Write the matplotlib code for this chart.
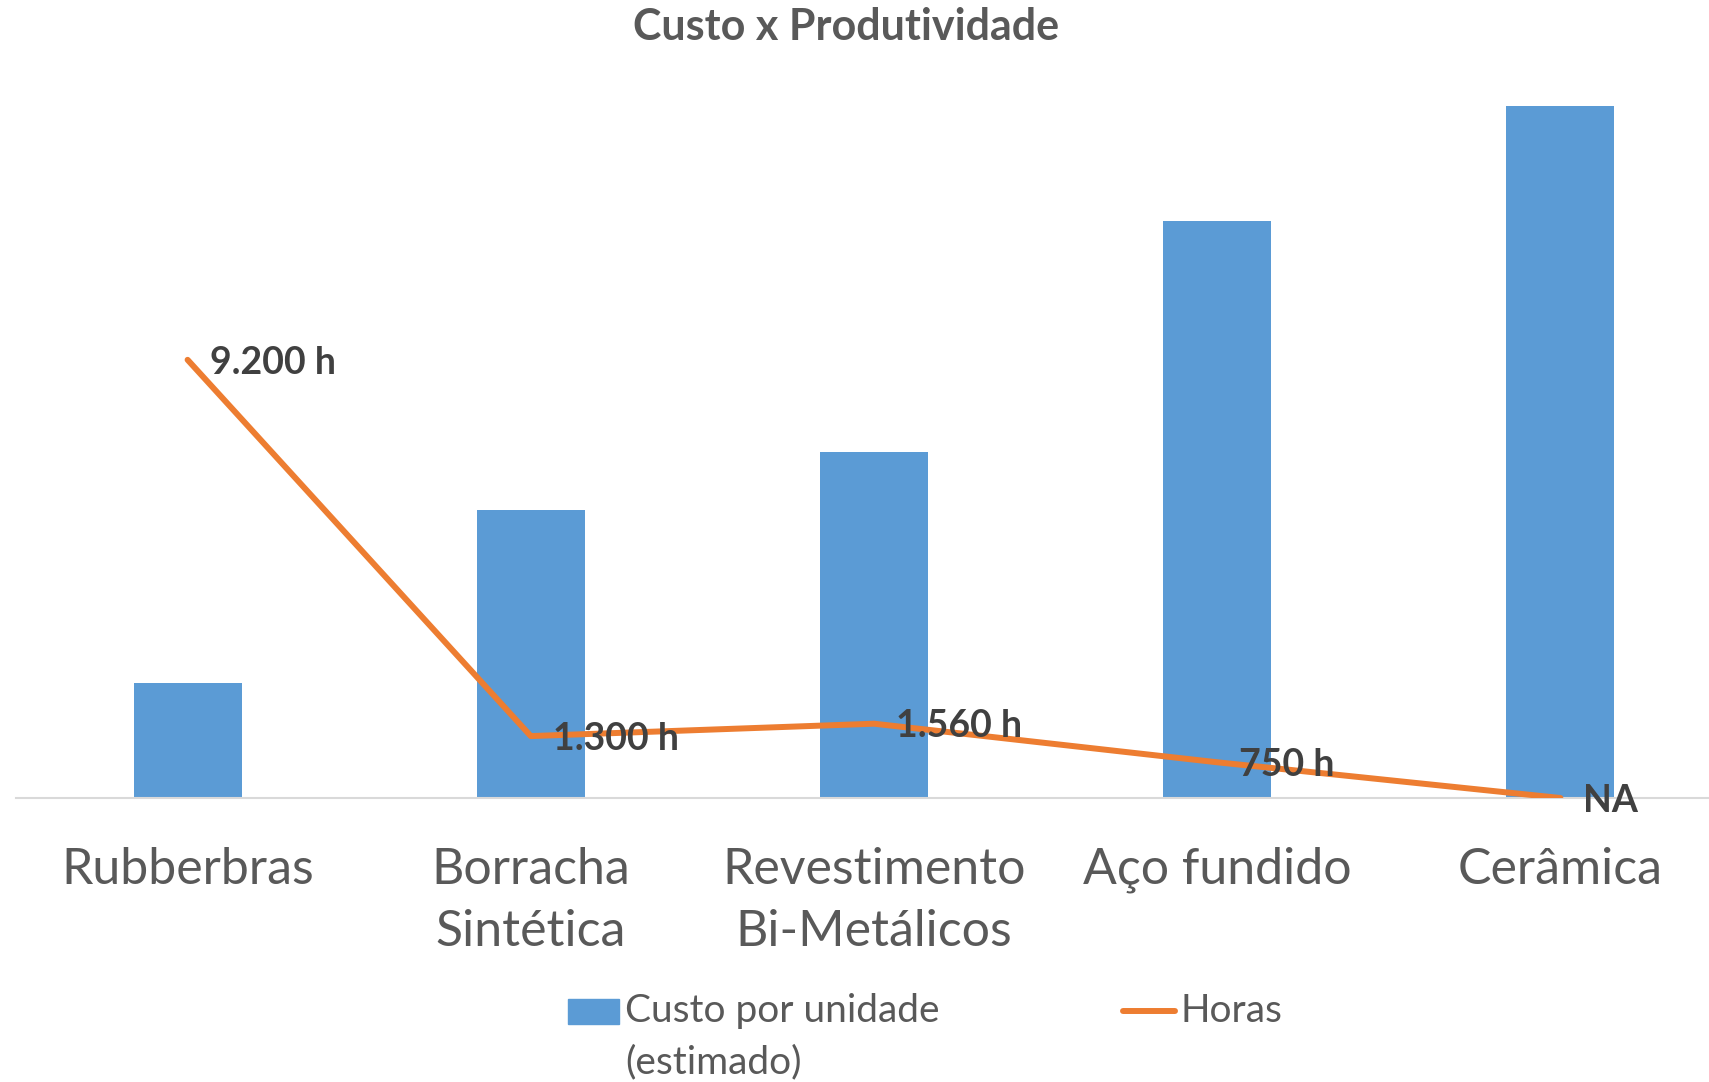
import matplotlib
matplotlib.use("Agg")
import matplotlib.pyplot as plt
from matplotlib.patches import Rectangle
from matplotlib.lines import Line2D

plt.rcParams['font.family'] = ['Lato', 'DejaVu Sans']

categories = ["Rubberbras", "Borracha\nSintética", "Revestimento\nBi-Metálicos",
              "Aço fundido", "Cerâmica"]
custo = [1000, 2500, 3000, 5000, 6000]
horas = [9200, 1300, 1560, 750, 0]
horas_labels = ["9.200 h", "1.300 h", "1.560 h", "750 h", "NA"]

blue = "#5B9BD5"
orange = "#ED7D31"
text_grey = "#595959"
label_grey = "#404040"

W, H = 1709, 1082
fig = plt.figure(figsize=(W / 100, H / 100), dpi=100)

# plot area in pixels
left_px, right_px = 16, 1709
top_px, base_px = 60, 798
ax = fig.add_axes([left_px / W, 1 - base_px / H,
                   (right_px - left_px) / W, (base_px - top_px) / H])
ax2 = ax.twinx()

x = list(range(len(categories)))
ax.bar(x, custo, width=0.315, color=blue, zorder=2)
ax.set_xlim(-0.5, 4.433)
ax.set_ylim(0, 6396)
ax2.set_ylim(0, 15495)

ax2.plot(x, horas, color=orange, lw=4.3, solid_capstyle='round', zorder=3)
for xi, yi, lab in zip(x, horas, horas_labels):
    ax2.annotate(lab, xy=(xi, yi), xytext=(16, -2), textcoords='offset points',
                 ha='left', va='center', fontsize=27, fontweight='bold',
                 color=label_grey)

for a in (ax, ax2):
    for s in ("top", "right", "left"):
        a.spines[s].set_visible(False)
    a.set_yticks([])
ax2.spines["bottom"].set_visible(False)
ax.spines["bottom"].set_color("#D9D9D9")
ax.spines["bottom"].set_linewidth(1.5)

ax.set_xticks(x)
ax.set_xticklabels(categories, fontsize=36, color=text_grey, linespacing=1.45)
ax.tick_params(axis='x', length=0, pad=35)

fig.text(846 / W, 1 - 27 / H, "Custo x Produtividade", ha='center', va='center',
         fontsize=31, fontweight='bold', color=text_grey)

# legend
fig.patches.append(Rectangle((568 / W, 1 - 1024 / H), 51 / W, 25 / H,
                             transform=fig.transFigure, color=blue))
fig.text(625 / W, 1 - 1011 / H, "Custo por unidade", ha='left', va='center',
         fontsize=28, color=text_grey)
fig.text(625 / W, 1 - 1062 / H, "(estimado)", ha='left', va='center',
         fontsize=28, color=text_grey)
fig.lines.append(Line2D([1123 / W, 1175 / W], [1 - 1011 / H, 1 - 1011 / H],
                        transform=fig.transFigure, color=orange, lw=4.3,
                        solid_capstyle='round'))
fig.text(1181 / W, 1 - 1011 / H, "Horas", ha='left', va='center',
         fontsize=28, color=text_grey)

fig.savefig("out.png", dpi=100)
